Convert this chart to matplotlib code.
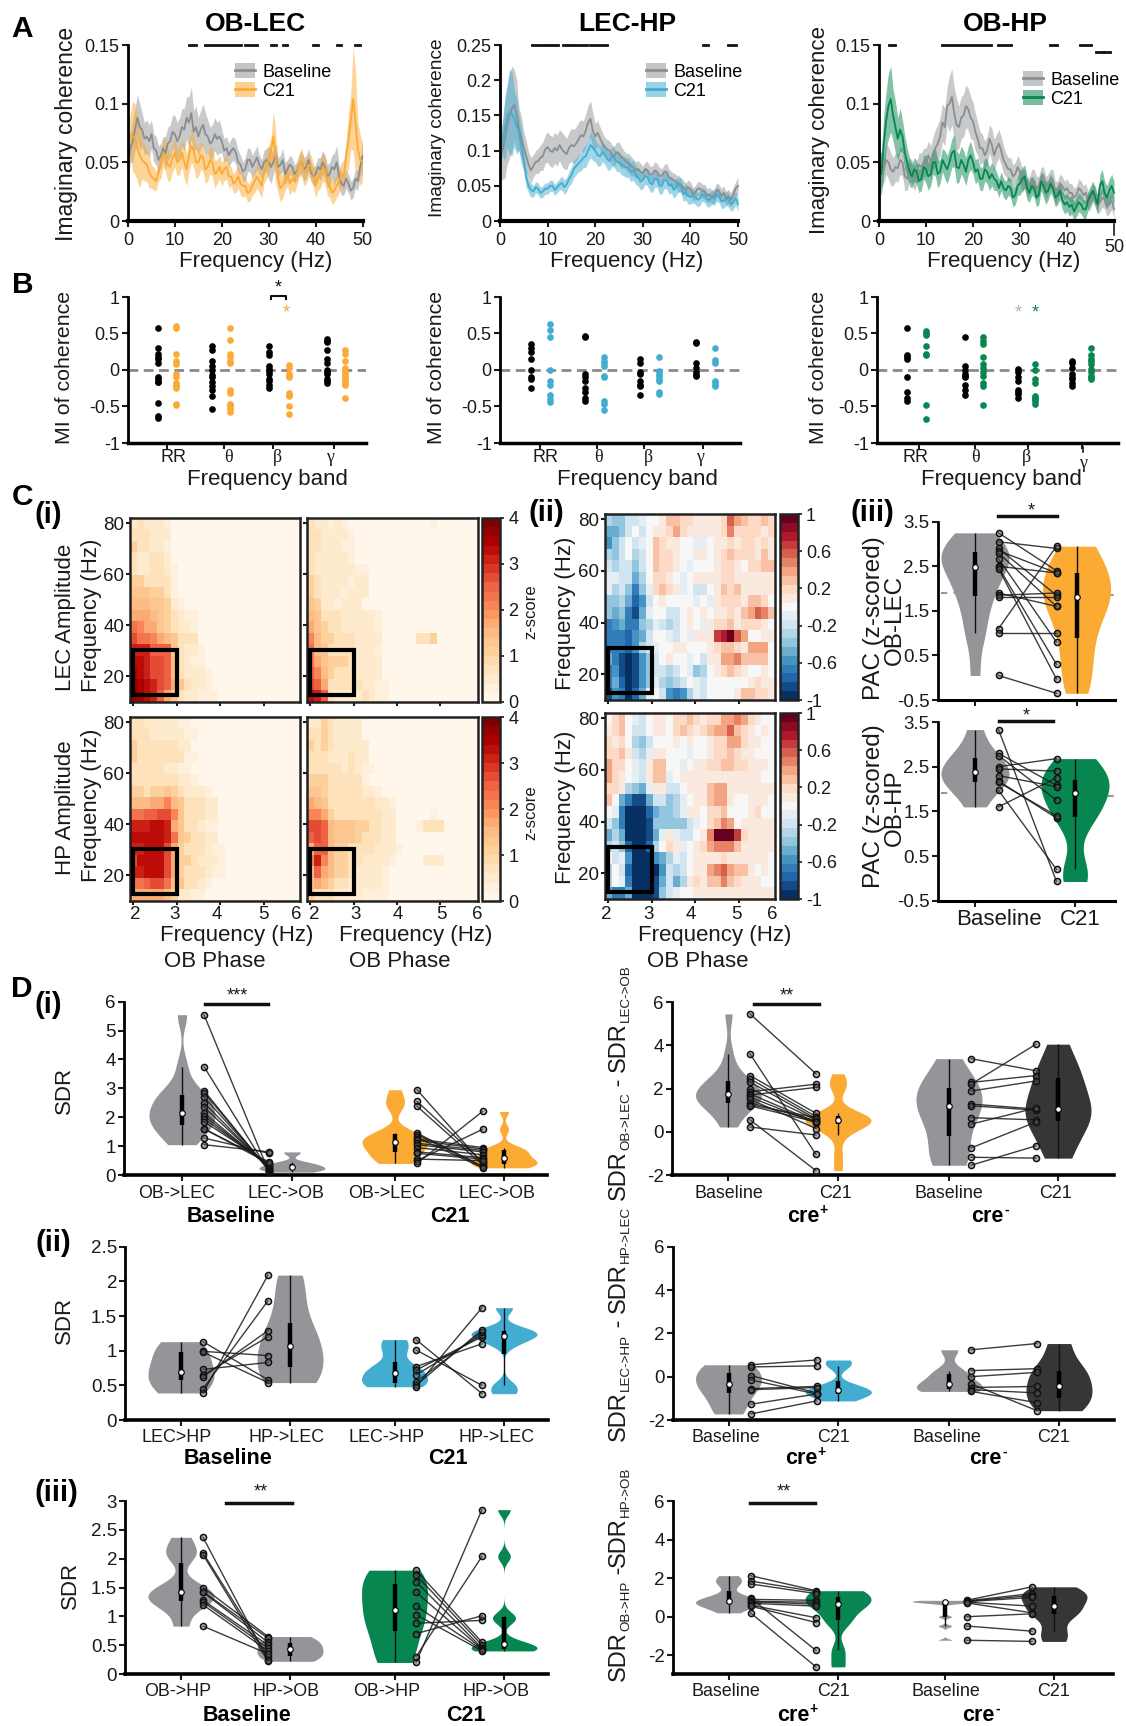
import numpy as np
import matplotlib
matplotlib.use("Agg")
import matplotlib.pyplot as plt
from matplotlib.patches import Rectangle, Patch
from matplotlib.lines import Line2D

plt.rcParams['font.family'] = ['Liberation Sans', 'DejaVu Sans']
plt.rcParams['axes.unicode_minus'] = False

# ---------------- DATA ----------------
A1_BASE = [50,62,68,78,88,80,78,70,72,68,74,62,60,52,56,62,58,66,68,76,
           74,68,72,80,78,88,84,92,76,80,72,78,82,74,72,66,68,74,70,72,
           68,60,62,56,60,62,58,50,48,42,44,52,52,46,50,54,48,44,50,52,
           50,46,50,56,46,48,52,40,44,48,46,40,42,48,50,44,46,52,42,38,
           40,46,44,50,46,38,40,46,44,50,38,32,30,36,32,26,28,36,34,46,55]
A1_BASE_SEM = [12,18,20,14,14,12,12,10,14,14,16,16,18,22,18,16,18,14,14,14,10,10,10,10,8,10,10,10,8,10,14,10,8,10,8,8,8,10,10,8,8,10,10,10,14,10,8,8,8,8,14]
A1_C21 = [60,74,72,70,62,56,52,50,48,42,38,36,34,42,48,58,56,48,46,54,
          58,50,52,58,50,44,56,64,60,50,50,56,54,44,46,52,50,40,42,46,
          40,44,46,38,38,32,34,38,32,30,30,24,25,30,34,38,34,30,42,46,
          52,60,72,54,36,28,30,36,40,32,36,34,40,48,50,42,42,48,46,40,
          30,36,40,46,44,34,30,24,26,30,34,40,38,55,68,85,104,85,62,52,50]
A1_C21_SEM = [18,30,28,16,14,10,8,12,14,12,12,12,14,14,14,12,12,12,12,10,10,10,8,10,10,8,8,10,10,10,12,22,12,10,10,10,10,12,10,10,10,12,12,10,10,10,14,24,44,22,16]
A2_BASE = [90,100,115,135,150,160,165,150,130,118,105,92,80,72,78,84,85,90,92,102,
           105,100,98,104,100,108,102,98,95,104,108,106,110,116,122,120,128,140,145,128,
           120,125,118,110,105,102,100,94,92,98,96,90,88,84,82,78,76,72,74,70,
           68,74,72,66,66,72,70,64,64,70,70,62,60,58,56,50,52,48,44,48,
           46,38,40,46,46,42,42,36,38,34,36,44,42,36,40,32,35,30,38,46,50]
A2_BASE_SEM = [40,55,60,50,30,22,18,16,18,20,22,22,22,24,22,24,24,22,24,26,18,16,14,14,14,16,12,14,12,12,10,12,12,12,10,12,10,10,10,10,10,10,10,10,10,10,10,10,10,10,12]
A2_C21 = [100,115,130,150,155,152,145,135,125,105,85,62,50,44,42,48,46,40,42,46,
          46,50,50,44,48,52,54,48,52,60,65,74,78,82,85,90,92,100,108,104,
          100,94,92,98,95,88,85,92,90,84,84,80,78,76,76,70,72,66,62,56,
          58,64,62,54,52,60,60,50,50,58,58,50,52,44,48,54,50,38,42,36,
          34,36,34,30,32,38,36,30,30,34,32,38,36,28,28,32,30,24,26,32,24]
A2_C21_SEM = [22,45,60,40,25,14,10,8,8,8,8,8,8,10,10,12,12,14,16,18,16,14,14,14,14,14,14,14,14,12,12,12,12,12,12,12,12,12,10,12,10,10,10,10,10,10,10,10,10,10,10]
A3_BASE = [50,42,44,52,50,44,42,46,45,52,50,38,36,44,42,36,40,48,46,50,
           50,56,50,58,62,66,72,84,80,98,100,106,92,82,80,88,90,98,95,88,
           85,76,70,62,62,56,60,70,65,56,62,66,60,52,48,44,44,38,40,46,
           42,34,36,28,30,36,34,28,30,38,36,28,32,36,34,24,26,32,30,26,
           28,24,24,20,22,28,26,22,24,16,18,24,22,14,16,20,18,12,14,18,10]
A3_BASE_SEM = [14,12,14,12,12,12,10,10,10,12,12,14,16,16,16,24,22,18,18,18,16,14,12,12,14,12,12,10,10,10,10,8,8,10,8,10,8,10,8,8,8,8,8,8,8,8,8,8,8,8,8]
A3_C21 = [45,40,65,85,98,104,90,80,70,78,72,58,50,42,38,44,42,34,36,46,
          44,38,40,50,50,40,42,52,48,44,50,58,60,46,45,52,48,42,52,56,
          50,42,44,36,36,44,42,36,40,36,34,28,34,28,26,30,28,20,22,30,
          32,36,38,28,24,30,28,20,22,34,30,24,26,32,28,20,22,26,18,14,
          16,12,14,8,12,16,14,10,10,18,22,26,20,14,30,34,24,20,26,30,24]
A3_C21_SEM = [18,25,28,22,18,14,12,10,10,10,12,10,12,10,12,12,14,12,12,12,10,10,10,10,10,8,8,8,8,8,10,10,8,8,8,10,8,8,8,8,8,8,8,8,8,8,8,10,10,10,10]
A1_SIG = [(13,14.5),(16.5,24),(25,27.5),(30.5,31.5),(33,34),(39.5,40.5),(44.5,45.5),(48.5,49.5)]
A2_SIG = [(6.8,9.4),(9.8,12.2),(13.3,14.5),(15,18.3),(18.9,22.5),(42.7,43.8),(48,49.5)]
A3_SIG = [(2.1,3.5),(13.4,23.8),(25.3,28),(36.4,37.8),(42.8,45.1)]
A3_SIG_LOW = [(46.2,47.6),(47.9,49.2)]

BANDS = ['RR', 'θ', 'β', 'γ']
B1_BLACK = [[.58,.3,.22,.18,.15,.1,-.1,-.13,-.16,-.17,-.45,-.63,-.66],
            [.33,.28,.12,.05,0,-.07,-.1,-.16,-.22,-.27,-.36,-.53],
            [.33,.25,.2,.05,.02,-.02,-.05,-.12,-.15,-.2,-.25],
            [.42,.4,.38,.28,.15,.1,0,-.03,-.05,-.12,-.15,-.18]]
B1_COL = [[.6,.57,.22,.12,.08,-.05,-.1,-.18,-.2,-.22,-.25,-.46,-.48],
          [.57,.41,.22,.18,.13,.1,-.28,-.32,-.46,-.48,-.5,-.53,-.57],
          [.07,.03,-.05,-.08,-.1,-.32,-.34,-.36,-.5,-.6],
          [.28,.22,.12,.03,-.03,-.05,-.1,-.12,-.14,-.18,-.2,-.38]]
B2_BLACK = [[.35,.3,.24,.15,0,-.1,-.12,-.25],
            [.47,.45,-.05,-.1,-.15,-.25,-.3,-.38,-.42],
            [.15,.1,-.03,-.05,-.15,-.2,-.22,-.34],
            [.39,.37,.1,.03,-.03,-.07,-.08]]
B2_COL = [[.63,.55,.45,0,-.15,-.2,-.34,-.4,-.44],
          [.18,.12,.1,.05,-.08,-.1,-.42,-.46,-.55],
          [.18,-.02,-.05,-.08,-.12,-.15,-.3,-.33],
          [.3,.14,.1,-.15,-.17,-.2,-.22]]
B3_BLACK = [[.58,.2,.18,.15,-.1,-.3,-.38,-.42],
            [.45,.05,0,-.05,-.08,-.1,-.2,-.27,-.34],
            [.02,-.03,-.1,-.15,-.28,-.3,-.33,-.38],
            [.13,.1,.03,-.05,-.1,-.12,-.18,-.22]]
B3_COL = [[.53,.5,.48,.33,.22,.2,-.48,-.67],
          [.45,.4,.35,.18,.08,.03,-.03,-.08,-.18,-.22,-.48],
          [.08,0,-.12,-.18,-.35,-.38,-.4,-.42,-.47],
          [.3,.2,.15,.12,.08,.02,-.03,-.08,-.1,-.12]]

# heatmap cells, rows top to bottom; z-score maps: char value x 0.25; change maps: (char value - 10) / 10
PAC_LEC_BASE = ["232221","333222","433221","322332","3223321","4433331","55544310","66655421",
  "7776543211","9877543221","b99876533 3","cccaaa53221","ddcbba63211","edcbba632221","fedcba75322 1","fedca7532 2111"]
PAC_LEC_C21 = ["3221210000000000001","33222210","33222110","3222221","322222211","432222122","432221222","54221222",
  "65333222221","75433222221","86443332222000003 34","96533332221","97544432222","a8643332222","ba7333332211","dca322223211"]
PAC_HP_BASE = ["332222211","3332222211","433333322","4333333311","333332211","3333333221","443445432221","6667786533322",
  "99aabb8533322","cccddc7533211","dddddc9543322","ccdddb74333211","bddddb7443222 1","ccdddb74333211","99abb9653321","777776422110"]
PAC_HP_C21 = ["224322220","334322220","4343222220","333222322","3333323211","4443333310","55433333221","7653333333221",
  "8874333333322000001","bba6555443322000133 3","aba65554333220","7aa64433332221","8c8644332222100 00222","6a7644322221","676433222221","433322221111"]
DIFF_LEC = ["7668 89aabddccbbbbcgedccdc","556 8a8abbcecbbbbbcfccccbc","468a89adcbbaa99abbcbccbcb","768a78adccba abbabcdcccbdb","87886 8adccba9aaabccbaccdd","99885 7accba9abbbbccbbbbbb",
 "97863 69cdcb9a88abdcdbbbbb","6675248abaaaa9a9bcccbddc","6563159aa88abababbcbdegfd","3453367987 8aba9bccdbcccb","3332458aa98a9bbbhikgeaabb","33324789aabbaaabcddcbeee",
 "531014 68abaa9a8bbeefdddd","3410146 887 8a967abcdcbaaba","352014697678a98aaaaaabcbb","1430259a84347 98aaaabddccb"]
DIFF_HP = ["acda98abbaccdcbcceefecbaa","bcda88abbacdcbcdeegdcbaba","cbca768aaababaabcceecbbaa","ccdb879bbaaa9aabccdcbbaaa","eccа98bddaa9abbccddccbbba".replace('а','a'),"ecba98bdd9abbbbbbbbbbbbaa",
 "ccb7659bb88abbbdeebbbbbbb","da531158867 9abbdeebaabbba","a93000256679bbacc daaabcaa","8630001666668 9acdfeabbbbb","575000159b988abfkkkhcbbbb","786200 27acb9abcefffdbbbbb",
 "a89400045798abbbbcbbbbbba","7a8200004878abbefgeddbaba","7a9300015857bcbddfdcbbbaa","5335000168 9aabbbbbbbbbbbb"]
PAC_HM_TICKS = [20, 40, 60, 80]

PAC_OBLEC_B = [3.25,3.05,2.9,2.85,2.8,2.67,2.5,2.48,1.9,1.85,1.8,1.1,1.0,0.05,2.45]
PAC_OBLEC_C = [2.4,2.9,1.85,2.35,1.6,0.8,2.35,0.3,1.6,1.9,1.8,2.95,1.0,-0.35,-0.03]
PAC_OBHP_B = [3.33,2.8,2.75,2.5,2.45,2.3,2.18,2.15,1.97,1.6]
PAC_OBHP_C = [-0.07,2.08,1.75,2.68,2.4,2.05,1.35,1.4,0.2,2.25]

D1L_A = [5.55,3.75,2.92,2.85,2.7,2.5,2.35,2.15,2.05,1.95,1.85,1.6,1.6,1.28,1.05]
D1L_B = [.1,.12,.15,.18,.2,.22,.25,.28,.3,.35,.38,.4,.45,.75,.8]
D1L_C = [2.95,2.55,2.38,1.45,1.4,1.3,1.25,1.2,1.1,1.05,.95,.8,.75,.55,.5,.4]
D1L_D = [.4,.45,.35,.3,.28,.25,.95,.9,.85,.8,.7,.6,.55,.5,1.58,2.2]
D1R_A = [5.45,3.6,2.6,2.45,2.3,2.0,1.85,1.75,1.7,1.6,1.5,1.35,1.25,1.2,.55,.22]
D1R_B = [2.68,-1.05,.85,.7,.6,.55,2.2,.45,2.05,.4,.15,.5,.65,.45,-1.8,-.15]
D1R_C = [3.38,2.28,2.2,1.88,1.28,1.2,.65,.35,-.75,-1.18,-1.55]
D1R_D = [2.82,2.6,4.05,2.35,1.05,1.0,.55,1.1,.45,-1.22,-.65]
D2L_A = [1.13,.99,.98,.73,.65,.62,.45,.39]
D2L_B = [.58,.93,.54,.83,1.2,1.29,1.72,2.09]
D2L_C = [1.16,1.01,.77,.72,.65,.55,.5,.48]
D2L_D = [.38,.5,1.1,1.2,1.23,1.27,1.3,1.62]
D2R_A = [.55,.45,.05,-.15,-.55,-.6,-1.27,-1.72]
D2R_B = [.77,.5,-.75,-.8,-.45,-.5,-.8,-1.12]
D2R_C = [1.24,.28,0,-.33,-.5,-.6,-.68]
D2R_D = [1.53,.37,.2,-1.57,-.45,-.75,-1.2]
D3L_A = [2.37,2.1,2.07,1.5,1.43,1.42,1.28,1.25,1.2,.83]
D3L_B = [.24,.3,.22,.65,.62,.55,.5,.45,.4,.35]
D3L_C = [1.8,1.72,1.6,1.42,1.18,1.03,.88,.7,.3,.2]
D3L_D = [.55,.5,.45,.43,.42,.4,.93,1.01,2.04,2.85]
D3R_A = [2.13,1.85,1.7,.98,.9,.8,.78,.7,.6,.55,.2]
D3R_B = [1.35,1.3,1.2,-1.75,.85,.75,.65,.55,-.05,-.3,-2.6]
D3R_C = [.85,.82,.8,.78,.75,.72,0,-.48,-1.22]
D3R_D = [1.55,1.2,1.1,1.0,.55,.2,.15,-.75,-1.28]

# ---------------- STYLE / LAYOUT ----------------
W, H = 1126, 1726
GREY, ORANGE, BLUE, GREEN, DARK = '#939598', '#FBAA33', '#42ADD1', '#078650', '#363636'
INK = '#1a1a1a'
fig = plt.figure(figsize=(W/100, H/100), dpi=100)

def fx(x): return x / W
def fy(y): return 1 - y / H

def T(x, y, s, size=13, weight='normal', rot=0, ha='center', va='center', color=INK, **kw):
    return fig.text(fx(x), fy(y), s, fontsize=size, fontweight=weight, rotation=rot,
                    ha=ha, va=va, color=color, **kw)

def axpx(x0, x1, ytop, ybot, ylim, xlim=None, sp=2.0, spb=None):
    ax = fig.add_axes([fx(x0), fy(ybot), (x1-x0)/W, (ybot-ytop)/H])
    ax.set_ylim(*ylim)
    ax.set_xlim(*(xlim if xlim else (x0, x1)))
    ax.patch.set_alpha(0)
    for s in ('top', 'right'):
        ax.spines[s].set_visible(False)
    ax.spines['left'].set_linewidth(sp)
    ax.spines['bottom'].set_linewidth(spb or sp)
    ax.tick_params(length=4, width=1.5, labelsize=13, colors=INK, pad=2)
    return ax

def fbar(x0, x1, y, lw=2.5):
    fig.add_artist(Line2D([fx(x0), fx(x1)], [fy(y), fy(y)], color='#111', lw=lw))

# ---------------- A ----------------
def panel_a(x0, x1, ymax, yticks, ylabs, base, bsem, c21, csem, color, sig):
    ax = axpx(x0, x1, 45, 221, (0, ymax), (0, 50), spb=3)
    for m, s, c, lc in ((base, bsem, GREY, '#8b8e90'), (c21, csem, color, color)):
        m = np.array(m)/1000
        s = np.repeat(np.array(s)/1000, 2)[:len(m)]
        f = np.arange(len(m)) * 0.5
        ax.fill_between(f, m-s, m+s, color=c, alpha=.5, lw=0, clip_on=False)
        ax.plot(f, m, color=lc, lw=1.3, clip_on=False)
    ax.set_yticks(yticks, ylabs)
    ax.set_xticks(range(0, 51, 10))
    ax.tick_params(axis='x', pad=4)
    for a, b in sig:
        ax.plot([a, b], [ymax, ymax], color='#111', lw=2, clip_on=False)
    ax.set_ylim(0, ymax)
    return ax

ax1 = panel_a(128, 362.5, .15, [0,.05,.1,.15], ['0','0.05','0.1','0.15'], A1_BASE, A1_BASE_SEM, A1_C21, A1_C21_SEM, ORANGE, A1_SIG)
ax2 = panel_a(500, 738, .25, [0,.05,.1,.15,.2,.25], ['0','0.05','0.1','0.15','0.2','0.25'], A2_BASE, A2_BASE_SEM, A2_C21, A2_C21_SEM, BLUE, A2_SIG)
ax3 = panel_a(879, 1114, .15, [0,.05,.1,.15], ['0','0.05','0.1','0.15'], A3_BASE, A3_BASE_SEM, A3_C21, A3_C21_SEM, GREEN, A3_SIG)
ax3.set_xticks(range(0, 41, 10))
T(1114, 247, '50', 13)
fig.add_artist(Line2D([fx(1114)]*2, [fy(224), fy(235)], color=INK, lw=1.2))
for a, b in A3_SIG_LOW:
    ax3.plot([a, b], [.15*(1-7/176)]*2, color='#111', lw=2, clip_on=False)

for ax, lx, ly, c in ((ax1, 235, 63, ORANGE), (ax2, 646, 63, BLUE), (ax3, 1023, 71, GREEN)):
    hs = [(Patch(color=GREY, alpha=.55, lw=0), Line2D([], [], color='#8b8e90', lw=2)),
          (Patch(color=c, alpha=.55, lw=0), Line2D([], [], color=c, lw=2))]
    ax.legend(hs, ['Baseline', 'C21'], loc='upper left', bbox_to_anchor=(fx(lx), fy(ly)), bbox_transform=fig.transFigure,
              frameon=False, fontsize=13, handlelength=1.1, handleheight=.9, borderpad=0, labelspacing=.08, handletextpad=.4, borderaxespad=0)

for x, s, in ((255, 'OB-LEC'), (627, 'LEC-HP'), (1005, 'OB-HP')):
    T(x, 24, s, 19, 'bold', color='#000')
for x in (256, 627, 1004):
    T(x, 262, 'Frequency (Hz)', 16)
T(67, 134, 'Imaginary coherence', 16.5, rot=90)
T(437, 128, 'Imaginary coherence', 13.8, rot=90)
T(819, 130, 'Imaginary coherence', 16, rot=90)

# ---------------- B ----------------
def panel_b(x0, x1, ticks, xs, black, col, color):
    ax = axpx(x0, x1, 297, 443, (-1, 1), spb=2.5)
    ax.axhline(0, color='#8a8a8a', lw=2, dashes=(3.5, 2), zorder=1)
    for i in range(4):
        ax.plot([xs[i][0]]*len(black[i]), black[i], 'o', color='#000', ms=4.8, mew=0, zorder=3)
        ax.plot([xs[i][1]]*len(col[i]), col[i], 'o', color=color, ms=4.8, mew=0, zorder=3)
    ax.set_yticks([-1,-.5,0,.5,1], ['-1','-0.5','0','0.5','1'])
    ax.set_xticks(ticks, [])
    return ax

B_TICKS = [[166.5,224,273,334],[540,597,644,703],[919,975,1028,1082]]
B_XS = [[(158,176),(212,230),(269,289),(327,345)],
        [(531,550),(585,604),(640,659),(696,715)],
        [(907,926),(965,983),(1018,1035),(1072,1091)]]
panel_b(128, 366, B_TICKS[0], B_XS[0], B1_BLACK, B1_COL, ORANGE)
panel_b(500, 740, B_TICKS[1], B_XS[1], B2_BLACK, B2_COL, BLUE)
panel_b(877, 1118, B_TICKS[2], B_XS[2], B3_BLACK, B3_COL, GREEN)
for xs, yy in (((174,228,277,330),(458,)*4), ((546,598,648,700),(458,)*4), ((916,975,1026,1083),(458,458,458,463))):
    for x, y, b in zip(xs, yy, BANDS):
        T(x, y, b, 13, family=['Liberation Sans'] if b == 'RR' else ['Liberation Serif', 'DejaVu Serif'])
fig.add_artist(Line2D([fx(1083)]*2, [fy(447), fy(452)], color=INK, lw=1.2))
for x in (267, 637, 1001):
    T(x, 479, 'Frequency band', 16)
for x in (65, 436, 818):
    T(x, 367, 'MI of coherence', 15.4, rot=90)
T(278, 288, '*', 13, color='#111')
fig.add_artist(Line2D([fx(271), fx(271), fx(286), fx(286)], [fy(299), fy(296), fy(296), fy(299)], color='#111', lw=1.5))
T(286, 313, '*', 13, color=ORANGE)
T(1018, 313, '*', 13, color='#b0b0b0')
T(1035, 313, '*', 13, color=GREEN)

# ---------------- C heatmaps ----------------
def decode(rows, pad, scale, offset):
    out = []
    for r in rows:
        r = r.replace(' ', '')
        vals = [int(c, 36) for c in r[:25]]
        vals += [pad] * (25 - len(vals))
        out.append([(v - offset) * scale for v in vals])
    return np.array(out)

ZCMAP = plt.get_cmap('OrRd', 20)
DCMAP = plt.get_cmap('RdBu_r', 21)

def heat(x0, x1, yt, yb, grid, cmap, vmin, vmax, ylabels):
    ax = fig.add_axes([fx(x0), fy(yb), (x1-x0)/W, (yb-yt)/H])
    xr = (2 - (3/43.5), 2 + (x1-x0-3)/43.5)
    im = ax.imshow(grid, extent=(xr[0], xr[1], 10, 82), aspect='auto', cmap=cmap, vmin=vmin, vmax=vmax,
                   interpolation='nearest', origin='upper')
    for s in ax.spines.values():
        s.set_linewidth(1.8); s.set_color('#222')
    ax.set_xticks([2,3,4,5], [])
    ax.set_yticks(PAC_HM_TICKS, PAC_HM_TICKS if ylabels else [])
    ax.tick_params(length=3, width=1.5, labelsize=13.5, colors=INK, pad=1)
    ax.add_patch(Rectangle((2, 12.7), 1, 17.6, fill=False, ec='#000', lw=3, zorder=5))
    return ax, im

def cbar(x0, x1, yt, yb, im, ticks, labs):
    cax = fig.add_axes([fx(x0), fy(yb), (x1-x0)/W, (yb-yt)/H])
    cb = fig.colorbar(im, cax=cax)
    cb.set_ticks(ticks, labels=labs)
    cb.ax.tick_params(length=3, width=1.2, labelsize=13, colors=INK, pad=3)
    cb.outline.set_linewidth(1.8)
    cb.outline.set_edgecolor('#222')

ZT, ZL = [0,1,2,3,4], ['0','1','2','3','4']
DT, DL = [-1,-.6,-.2,.2,.6,1], ['-1','-0.6','-0.2','0.2','0.6','1']
for (yt, yb, g1, g2, g3) in ((518, 702, PAC_LEC_BASE, PAC_LEC_C21, DIFF_LEC), (717, 901, PAC_HP_BASE, PAC_HP_C21, DIFF_HP)):
    _, im = heat(130, 300, yt, yb, decode(g1, 0, .25, 0), ZCMAP, 0, 4, True)
    _, im2 = heat(307, 478, yt, yb, decode(g2, 0, .25, 0), ZCMAP, 0, 4, False)
    cbar(482, 500, yt, yb, im2, ZT, ZL)
    _, im3 = heat(605, 775, yt-4, yb-2, decode(g3, 10, .1, 10), DCMAP, -1, 1, True)
    cbar(780, 797.5, yt-4, yb-2, im3, DT, DL)

for xs in ((135,175,217,263,296), (314,356,398,441,477), (606,649,691,736,772)):
    for x, s in zip(xs, '23456'):
        T(x, 914, s, 13.5)
for x in (237, 416, 715):
    T(x, 935, 'Frequency (Hz)', 16)
for x in (215, 400, 698):
    T(x, 961, 'OB Phase', 16)
T(66, 617, 'LEC Amplitude', 16, rot=90); T(92, 615, 'Frequency (Hz)', 16, rot=90)
T(66, 808, 'HP Amplitude', 16, rot=90); T(92, 805, 'Frequency (Hz)', 16, rot=90)
T(531, 612, 'z-score', 12, rot=90); T(531, 813, 'z-score', 12, rot=90)
T(566, 613, 'Frequency (Hz)', 16, rot=90); T(566, 807, 'Frequency (Hz)', 16, rot=90)

# ---------------- violins ----------------
def violin(ax, x, data, half, bw, color):
    d = np.asarray(data, float)
    y = np.linspace(d.min(), d.max(), 300)
    k = np.exp(-.5 * ((y[:, None] - d[None, :]) / bw) ** 2).sum(axis=1)
    k = k / k.max() * half
    ax.fill_betweenx(y, x - k, x + k, color=color, lw=0, zorder=1)
    q1, med, q3 = np.percentile(d, [25, 50, 75])
    lo = d[d >= q1 - 1.5 * (q3 - q1)].min()
    hi = d[d <= q3 + 1.5 * (q3 - q1)].max()
    ax.vlines(x, lo, hi, color='#111', lw=1, zorder=2)
    ax.vlines(x, q1, q3, color='#000', lw=3.2, zorder=2)
    ax.plot([x], [med], 'o', ms=4, mfc='white', mec='#000', mew=.8, zorder=3)

def pairs(ax, xa, a, xb, b):
    for p, q in zip(a, b):
        ax.plot([xa, xb], [p, q], color='#1a1a1a', lw=1, alpha=.85, zorder=4, clip_on=False)
    for x, v in ((xa, a), (xb, b)):
        ax.plot([x]*len(v), v, 'o', ms=4.4, mfc=(.35, .35, .35, .45), mec='#111', mew=1.1, zorder=5, clip_on=False)

def panel_d(x0, x1, yt, yb, ylim, yticks, ylabs, vx, px, data, colors, bws, half=33):
    ax = axpx(x0, x1, yt, yb, ylim, spb=2.6)
    for x, d, c, bw in zip(vx, data, colors, bws):
        violin(ax, x, d, half, bw, c)
    pairs(ax, px[0], data[0], px[1], data[1])
    pairs(ax, px[2], data[2], px[3], data[3])
    ax.set_yticks(yticks, ylabs)
    ax.set_xticks(vx, [])
    ax.tick_params(labelsize=13.5)
    return ax

# C (iii)
for yt, yb, a, b, c, vx, bwa, bwb in ((521.7, 700, PAC_OBLEC_B, PAC_OBLEC_C, ORANGE, (975, 1076.6), .42, .55),
                                      (722, 900.7, PAC_OBHP_B, PAC_OBHP_C, GREEN, (975, 1075), .3, .42)):
    ax = axpx(938, 1114.5, yt, yb, (-.5, 3.5), spb=2.2)
    ax.plot([941, 970], [1.9, 1.9], color='#999', lw=1.5, dashes=(3, 3), zorder=0)
    ax.plot([1095, 1114], [1.85, 1.85], color='#999', lw=1.5, dashes=(3, 3), zorder=0)
    violin(ax, vx[0], a, 34, bwa, GREY)
    violin(ax, vx[1], b, 34, bwb, c)
    pairs(ax, 998.5, a, 1056.5, b)
    ax.set_yticks([-.5,.5,1.5,2.5,3.5], ['-0.5','0.5','1.5','2.5','3.5'])
    ax.set_xticks(vx, [])
    ax.tick_params(labelsize=13.5)
T(874, 618, 'PAC (z-scored)', 17.5, rot=90); T(895, 620, 'OB-LEC', 17.5, rot=90)
T(874, 806, 'PAC (z-scored)', 17.5, rot=90); T(895, 808, 'OB-HP', 17.5, rot=90)
T(999, 919, 'Baseline', 16); T(1080, 919, 'C21', 16)
fbar(998, 1056.5, 516); T(1031, 511, '*', 13)
fbar(999, 1053, 721); T(1026, 716, '*', 13)

# D
L1 = (182, 292, 395, 504); LP1 = (204, 269, 417, 482.5)
R1 = (728.5, 838, 949, 1058); RP1 = (750, 816, 971, 1036)
L2 = (181, 290, 394.5, 504); LP2 = (203, 268, 416, 482)
R2 = (728.5, 838.4, 949.4, 1059); RP2 = (751, 816.5, 971, 1037)
R3 = (728.5, 838, 945, 1054); RP3 = (750.5, 816, 966.5, 1032)

RT = [-2,0,2,4,6]; RL = ['-2','0','2','4','6']
panel_d(124, 547, 1001.7, 1175, (0,6), range(7), list('0123456'), L1, LP1, [D1L_A, D1L_B, D1L_C, D1L_D], [GREY, GREY, ORANGE, ORANGE], [.42, .09, .26, .16])
panel_d(672, 1114, 1002, 1175, (-2,6), RT, RL, R1, RP1, [D1R_A, D1R_B, D1R_C, D1R_D], [GREY, ORANGE, GREY, DARK], [.55, .38, .85, .95])
panel_d(125.5, 548, 1246.7, 1420, (0,2.5), [0,.5,1,1.5,2,2.5], ['0','0.5','1','1.5','2','2.5'], L2, LP2, [D2L_A, D2L_B, D2L_C, D2L_D], [GREY, GREY, BLUE, BLUE], [.2, .28, .11, .085])
panel_d(673, 1113.6, 1246.7, 1420, (-2,6), RT, RL, R2, RP2, [D2R_A, D2R_B, D2R_C, D2R_D], [GREY, BLUE, GREY, DARK], [.5, .24, .3, .6])
panel_d(125.5, 548, 1501, 1674, (0,3), [0,.5,1,1.5,2,2.5,3], ['0','0.5','1','1.5','2','2.5','3'], L2, LP2, [D3L_A, D3L_B, D3L_C, D3L_D], [GREY, GREY, GREEN, GREEN], [.17, .1, .32, .095])
panel_d(673, 1113, 1501, 1674, (-2.97,6), RT, RL, R3, RP3, [D3R_A, D3R_B, D3R_C, D3R_D], [GREY, GREEN, GREY, DARK], [.27, .42, .07, .42])

# D tick / group labels
for xs, labs, y in (((177,286,387,497), ('OB->LEC','LEC->OB','OB->LEC','LEC->OB'), 1193),
                    ((729,836,949,1056), ('Baseline','C21','Baseline','C21'), 1193),
                    ((177,286.5,387,497), ('LEC>HP','HP->LEC','LEC->HP','HP->LEC'), 1438),
                    ((726,833.5,946.6,1053), ('Baseline','C21','Baseline','C21'), 1438),
                    ((177.5,286.5,387,496), ('OB->HP','HP->OB','OB->HP','HP->OB'), 1691),
                    ((726,833,946,1053), ('Baseline','C21','Baseline','C21'), 1691)):
    for x, s in zip(xs, labs):
        T(x, y, s, 12.9)
for (x, y, s) in ((231,1216,'Baseline'), (450,1216,'C21'), (228,1458,'Baseline'), (448,1458,'C21'), (246.5,1715,'Baseline'), (466,1715,'C21')):
    T(x, y, s, 15.5, 'bold', color='#000')
for (x, y, sign) in ((806,1216,'+'), (990,1216,'-'), (804,1458,'+'), (988,1458,'-'), (796,1715,'+'), (981,1715,'-')):
    T(x-3, y, 'cre', 15.5, 'bold', color='#000')
    T(x+17, y-6, sign, 10, 'bold', color='#000')
T(64, 1090, 'SDR', 16, rot=90); T(64, 1320, 'SDR', 16, rot=90); T(70, 1585, 'SDR', 16, rot=90)

def stacked(x, ybottom, pieces):
    rend = fig.canvas.get_renderer()
    y = ybottom
    for s, kind in pieces:
        if kind == 'sub':
            t = T(x + 7, y, s, 9.6, rot=90, va='bottom')
        else:
            t = T(x, y, s, 17, rot=90, va='bottom')
        y -= t.get_window_extent(rend).height

stacked(619, 1200, [('SDR','m'),('OB->LEC','sub'),(' - ','m'),('SDR','m'),('LEC->OB','sub')])
stacked(619, 1441, [('SDR','m'),('LEC->HP','sub'),(' - ','m'),('SDR','m'),('HP->LEC','sub')])
stacked(619, 1681, [('SDR','m'),('OB->HP','sub'),(' -','m'),('SDR','m'),('HP->OB','sub')])

for a, b, y, st, sx, sy in ((205,268,1004,'***',237,996), (754,819,1004,'**',787,996), (226,292,1503,'**',261,1492), (750,815,1503,'**',784,1492)):
    fbar(a, b, y)
    T(sx, sy, st, 13)

# panel letters
for x, y, s, z in ((22,29,'A',21.5), (23,285,'B',21.5), (22,497,'C',21.5), (48,515,'(i)',21), (546,513,'(ii)',21), (872,513,'(iii)',21),
                (22,989,'D',21.5), (48,1005,'(i)',21), (53,1243,'(ii)',21), (56,1493,'(iii)',21)):
    T(x, y, s, z, 'bold', color='#000')

fig.savefig('out.png', dpi=100, facecolor='white')
